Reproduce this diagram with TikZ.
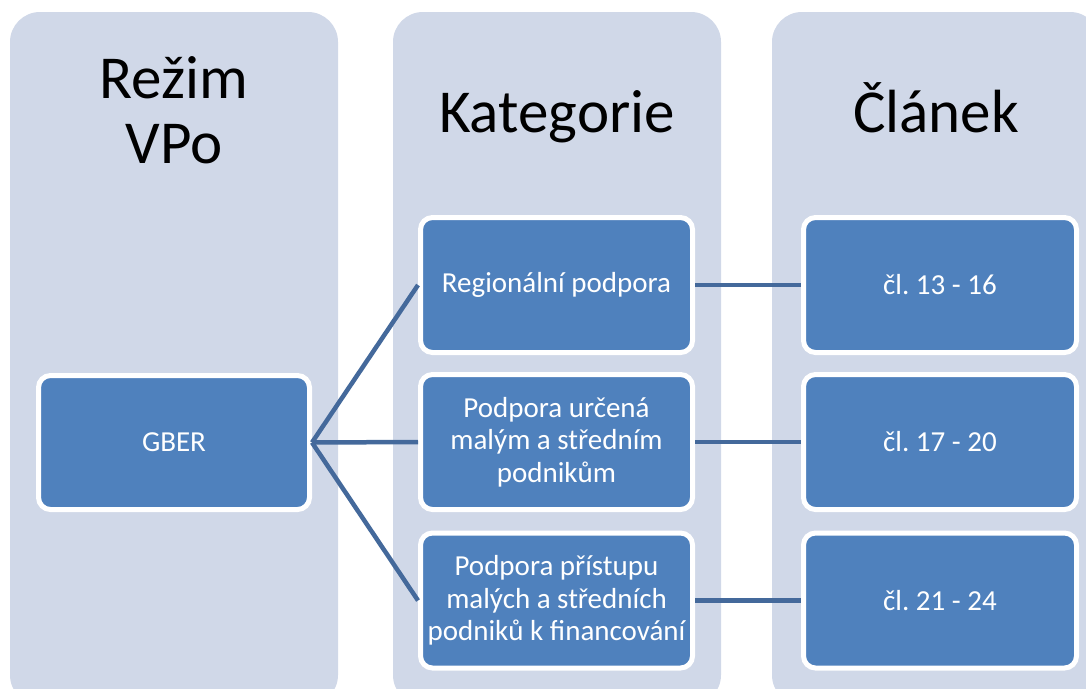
\documentclass[tikz,border=0pt]{standalone}
\usepackage{fontspec}
\setmainfont{Carlito}
\frenchspacing
\definecolor{colbg}{HTML}{D0D8E8}
\definecolor{boxfill}{HTML}{4F81BD}
\definecolor{linkcol}{HTML}{44699B}
\begin{document}
\begin{tikzpicture}[x=1pt,y=-1pt,
  column/.style={fill=colbg, rounded corners=30pt},
  title/.style={font=\fontsize{61}{65}\selectfont, align=center, text=black, inner sep=0pt},
  item/.style={draw=white, line width=5pt, fill=boxfill, rounded corners=12pt,
    text=white, align=center, inner sep=0pt,
    font=\fontsize{29}{32.5}\selectfont},
  link/.style={draw=linkcol, line width=4.5pt}]
\useasboundingbox (0,0) rectangle (1086,688);
\clip (0,0) rectangle (1086,688);
\fill[white] (0,0) rectangle (1086,688);
% columns
\fill[column] (10,12) rectangle (338,705);
\fill[column] (393,12) rectangle (721,705);
\fill[column] (772,12) rectangle (1100,705);
% titles
\node[title, anchor=base] (t1) at (174,98) {Režim};
\node[title, anchor=base] (t1b) at (174,163) {VPo};
\node[title, anchor=base] (t2) at (557,132) {Kategorie};
\node[title, anchor=base] (t3) at (936,132) {Článek};
% boxes
\node[item, minimum width=271pt, minimum height=134pt] (gber) at (174,442.5) {GBER};
\node[item, minimum width=272pt, minimum height=135pt] (k1) at (556.5,285) {Regionální podpora};
\node[item, minimum width=272pt, minimum height=135pt] (k2) at (556.5,442) {Podpora určená\\malým a středním\\podnikům};
\node[item, minimum width=272pt, minimum height=135pt] (k3) at (556.5,600.5) {Podpora přístupu\\malých a středních\\podniků k financování};
\node[item, minimum width=273pt, minimum height=135pt] (c1) at (940,285) {čl. 13 - 16};
\node[item, minimum width=273pt, minimum height=135pt] (c2) at (940,442) {čl. 17 - 20};
\node[item, minimum width=273pt, minimum height=135pt] (c3) at (940,600.5) {čl. 21 - 24};
% connectors
\draw[link] (gber.east) -- (k1.west);
\draw[link] (gber.east) -- (k2.west);
\draw[link] (gber.east) -- (k3.west);
\draw[link] (k1.east) -- (c1.west);
\draw[link] (k2.east) -- (c2.west);
\draw[link] (k3.east) -- (c3.west);
\end{tikzpicture}
\end{document}
